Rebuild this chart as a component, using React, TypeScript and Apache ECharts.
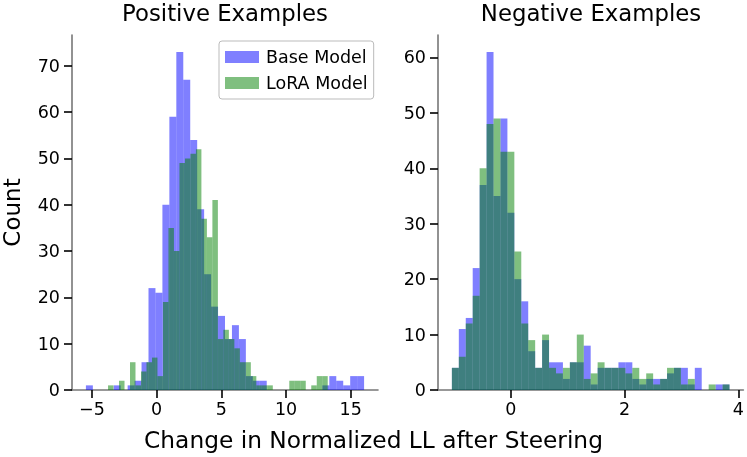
import React, { useEffect, useRef } from 'react';
import * as echarts from 'echarts';

const FONT = '"DejaVu Sans", Verdana, sans-serif';
const BASE_COLOR = 'rgba(0, 0, 255, 0.5)';
const LORA_COLOR = 'rgba(0, 128, 0, 0.5)';

// Positive examples: histogram bin start, bin width, counts per bin
const posBaseStart = -5.47;
const posBaseWidth = 0.5375;
const posBaseCounts = [1, 0, 0, 0, 1, 0, 1, 2, 6, 22, 21, 40, 59, 73, 67, 54, 39, 25, 18, 16, 11, 14, 11, 3, 2, 2, 0, 0, 0, 0, 0, 0, 0, 0, 1, 3, 2, 1, 3, 3];
const posLoraStart = -3.76;
const posLoraWidth = 0.4245;
const posLoraCounts = [1, 0, 2, 0, 6, 1, 4, 6, 7, 3, 19, 35, 30, 49, 50, 51, 52, 37, 33, 41, 11, 13, 11, 9, 6, 6, 3, 1, 1, 1, 0, 0, 0, 2, 2, 2, 0, 1, 3, 3];

// Negative examples
const negStart = -1.033;
const negWidth = 0.1219;
const negBaseCounts = [4, 11, 13, 22, 37, 61, 35, 49, 32, 20, 16, 7, 4, 9, 5, 5, 2, 5, 5, 8, 1, 4, 4, 4, 5, 5, 2, 1, 2, 2, 2, 3, 4, 4, 1, 4, 0, 0, 1, 1];
const negLoraCounts = [4, 6, 12, 17, 40, 48, 49, 43, 43, 25, 12, 9, 4, 10, 4, 3, 4, 5, 10, 2, 3, 5, 4, 4, 4, 3, 4, 2, 3, 1, 2, 4, 4, 1, 2, 0, 0, 1, 0, 1];

const posXTicks = [-5, 0, 5, 10, 15];
const negXTicks = [0, 2, 4];
const posYTicks = [0, 10, 20, 30, 40, 50, 60, 70];
const negYTicks = [0, 10, 20, 30, 40, 50, 60];

const titles = ['Positive Examples', 'Negative Examples'];
const xLabel = 'Change in Normalized LL after Steering';
const yLabel = 'Count';
const seriesNames = ['Base Model', 'LoRA Model'];

function makeSeries(name: string, color: string, start: number, width: number, counts: number[], idx: number) {
  const data = counts
    .map((c, i) => [start + i * width, start + (i + 1) * width, c])
    .filter((d) => d[2] > 0);
  return {
    type: 'custom',
    name,
    xAxisIndex: idx,
    yAxisIndex: idx,
    itemStyle: { color },
    encode: { x: [0, 1], y: 2 },
    data,
    renderItem: (params: any, api: any) => {
      const a = api.coord([api.value(0), api.value(2)]);
      const b = api.coord([api.value(1), 0]);
      return {
        type: 'rect',
        shape: { x: a[0], y: a[1], width: b[0] - a[0], height: b[1] - a[1] },
        style: { fill: color },
      };
    },
  };
}

function xRange(starts: number[], ends: number[]) {
  const lo = Math.min(...starts);
  const hi = Math.max(...ends);
  const pad = 0.05 * (hi - lo);
  return [lo - pad, hi + pad];
}

const fmt = (v: number) => (v < 0 ? '\u2212' + Math.abs(v) : String(v));

function xAxis(gridIndex: number, range: number[], ticks: number[]) {
  return {
    gridIndex,
    type: 'value',
    min: range[0],
    max: range[1],
    axisLine: { show: true, onZero: false, lineStyle: { color: '#777', width: 1.6 } },
    axisTick: { show: true, customValues: ticks, length: 8, lineStyle: { color: '#000', width: 1.6 } },
    axisLabel: { customValues: ticks, formatter: fmt, fontSize: 17.5, color: '#000', fontFamily: FONT, margin: 10 },
    splitLine: { show: false },
  };
}

function yAxis(gridIndex: number, max: number, ticks: number[]) {
  return {
    gridIndex,
    type: 'value',
    min: 0,
    max,
    axisLine: { show: true, onZero: false, lineStyle: { color: '#777', width: 1.6 } },
    axisTick: { show: true, customValues: ticks, length: 8, lineStyle: { color: '#000', width: 1.6 } },
    axisLabel: { customValues: ticks, fontSize: 17.5, color: '#000', fontFamily: FONT, margin: 12 },
    splitLine: { show: false },
  };
}

export default function App() {
  const ref = useRef<HTMLDivElement>(null);
  useEffect(() => {
    if (!ref.current) return;
    const chart = echarts.init(ref.current, undefined, { renderer: 'svg' });
    const posRange = xRange(
      [posBaseStart, posLoraStart],
      [posBaseStart + posBaseWidth * posBaseCounts.length, posLoraStart + posLoraWidth * posLoraCounts.length]
    );
    const negRange = xRange([negStart], [negStart + negWidth * negBaseCounts.length]);
    const posMax = 1.05 * Math.max(...posBaseCounts, ...posLoraCounts);
    const negMax = 1.05 * Math.max(...negBaseCounts, ...negLoraCounts);

    chart.setOption({
      animation: false,
      grid: [
        { left: 72, top: 35, width: 306, height: 355 },
        { left: 438, top: 35, width: 306, height: 355 },
      ],
      xAxis: [xAxis(0, posRange, posXTicks), xAxis(1, negRange, negXTicks)],
      yAxis: [yAxis(0, posMax, posYTicks), yAxis(1, negMax, negYTicks)],
      legend: {
        orient: 'vertical',
        left: 219,
        top: 41,
        padding: [7, 6, 7, 6],
        itemGap: 8,
        itemWidth: 34,
        itemHeight: 12,
        borderColor: '#bbb',
        borderWidth: 1,
        borderRadius: 3,
        backgroundColor: '#fff',
        textStyle: { fontSize: 17.5, color: '#000', fontFamily: FONT, padding: [0, 0, 0, 2] },
        data: seriesNames.map((n) => ({ name: n, icon: 'rect' })),
      },
      series: [
        makeSeries(seriesNames[0], BASE_COLOR, posBaseStart, posBaseWidth, posBaseCounts, 0),
        makeSeries(seriesNames[1], LORA_COLOR, posLoraStart, posLoraWidth, posLoraCounts, 0),
        makeSeries(seriesNames[0], BASE_COLOR, negStart, negWidth, negBaseCounts, 1),
        makeSeries(seriesNames[1], LORA_COLOR, negStart, negWidth, negLoraCounts, 1),
      ],
      graphic: [
        { type: 'text', x: 225, y: 13, style: { text: titles[0], fontSize: 22.8, fill: '#000', fontFamily: FONT, align: 'center', verticalAlign: 'middle' } },
        { type: 'text', x: 591, y: 13, style: { text: titles[1], fontSize: 22.8, fill: '#000', fontFamily: FONT, align: 'center', verticalAlign: 'middle' } },
        { type: 'text', x: 373.5, y: 439, style: { text: xLabel, fontSize: 23.3, fill: '#000', fontFamily: FONT, align: 'center', verticalAlign: 'middle' } },
        { type: 'text', x: 11.5, y: 212.5, rotation: Math.PI / 2, style: { text: yLabel, fontSize: 23, fill: '#000', fontFamily: FONT, align: 'center', verticalAlign: 'middle' } },
      ],
    });
    return () => chart.dispose();
  }, []);
  return <div ref={ref} style={{ position: 'fixed', left: 0, top: 0, width: 747, height: 457 }} />;
}
